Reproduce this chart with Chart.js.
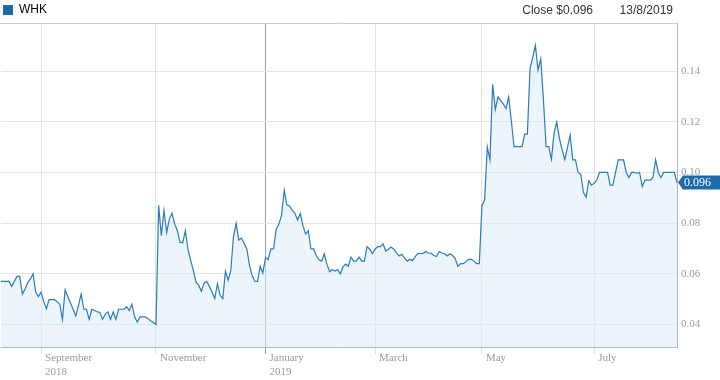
<!DOCTYPE html>
<html><head><meta charset="utf-8">
<script src="https://cdn.jsdelivr.net/npm/chart.js@4/dist/chart.umd.min.js"></script>
<style>html,body{margin:0;padding:0;background:#fff}</style>
</head><body>
<canvas id="c" width="720" height="380"></canvas>
<script>
const ticker = 'WHK';
const closeDate = '13/8/2019';

// Daily closes by month (trading days only)
const aug2018 = [0.057,0.057,0.057,0.057,0.055,0.057,0.059,0.059,0.052,0.054,0.0565,0.058,0.060,0.0527,0.051];
const sep2018 = [0.0527,0.049,0.0462,0.0498,0.0498,0.0498,0.049,0.048,0.042,0.0537,0.051,0.0485,0.046,0.0433,0.0475,0.052,0.046,0.046,0.042,0.046];
const oct2018 = [0.0455,0.045,0.0448,0.042,0.044,0.045,0.042,0.045,0.042,0.046,0.046,0.046,0.047,0.0455,0.048,0.043,0.041,0.043,0.043,0.043,0.0423,0.0415,0.0408];
const nov2018 = [0.040,0.087,0.075,0.085,0.0763,0.0816,0.0839,0.0796,0.077,0.0724,0.0722,0.077,0.0695,0.0652,0.0613,0.0567,0.0554,0.0531,0.0563,0.057,0.055,0.0528];
const dec2018 = [0.0502,0.0561,0.0515,0.0502,0.061,0.0574,0.0613,0.0746,0.0799,0.0733,0.0741,0.072,0.0698,0.0633,0.0593,0.0571,0.057,0.0629,0.0603];
const jan2019 = [0.0665,0.0656,0.0698,0.0698,0.0776,0.0796,0.0831,0.0929,0.0871,0.0868,0.0851,0.0839,0.0812,0.0839,0.079,0.0757,0.077,0.0698,0.0698,0.0672,0.0655];
const feb2019 = [0.065,0.0679,0.0637,0.0608,0.0617,0.0611,0.0617,0.060,0.0627,0.0638,0.063,0.0666,0.065,0.065,0.0666,0.065,0.065,0.0707,0.0697,0.068];
const mar2019 = [0.0697,0.0707,0.0707,0.0718,0.069,0.0697,0.0706,0.0697,0.0683,0.067,0.0677,0.0663,0.065,0.0657,0.0652,0.0668,0.068,0.068,0.068,0.0688,0.0681];
const apr2019 = [0.0681,0.0672,0.0668,0.0688,0.0682,0.0679,0.067,0.0679,0.0672,0.066,0.0629,0.064,0.064,0.0648,0.0657,0.0657,0.065,0.064,0.064];
const may2019 = [0.0869,0.0891,0.1101,0.105,0.1348,0.1249,0.1298,0.1285,0.127,0.1252,0.1298,0.1203,0.1102,0.1102,0.1102,0.1102,0.1151,0.1151,0.1411,0.1453,0.1501,0.1404,0.1449];
const jun2019 = [0.1289,0.1102,0.1102,0.1052,0.1157,0.1199,0.1134,0.109,0.105,0.1098,0.1148,0.105,0.105,0.100,0.0993,0.0921,0.0902,0.0967,0.095];
const jul2019 = [0.0957,0.0971,0.100,0.100,0.100,0.100,0.095,0.095,0.100,0.105,0.105,0.105,0.100,0.098,0.100,0.100,0.0997,0.100,0.0945,0.097,0.097,0.097,0.098];
const aug2019 = [0.105,0.100,0.098,0.100,0.100,0.100,0.100,0.100,0.096];

const monthKeys = ['2018-08','2018-09','2018-10','2018-11','2018-12','2019-01','2019-02','2019-03','2019-04','2019-05','2019-06','2019-07','2019-08'];
const monthlyCloses = [aug2018,sep2018,oct2018,nov2018,dec2018,jan2019,feb2019,mar2019,apr2019,may2019,jun2019,jul2019,aug2019];
const monthTickLabels = [null,['September','2018'],null,['November'],null,['January','2019'],null,['March'],null,['May'],null,['July'],null];
const yearStartMonths = ['2019-01'];
const yTickValues = [0.04,0.06,0.08,0.10,0.12,0.14];
const yRange = [0.0311, 0.159];

// build category table
const labels = [], closes = [], tickText = {}, tickIsYear = {};
monthKeys.forEach((k, m) => {
  monthlyCloses[m].forEach((v, j) => {
    const idx = labels.length;
    labels.push(k + '-' + (j + 1));
    closes.push(v);
    if (j === 0 && monthTickLabels[m]) {
      tickText[idx] = monthTickLabels[m];
      tickIsYear[idx] = yearStartMonths.includes(k);
    }
  });
});
const lastClose = closes[closes.length - 1];

const lineColor = '#2b7bba';
const badgeColor = '#1c6aa6';

const extras = {
  id: 'extras',
  afterLayout(chart) {
    // nudge legend slightly down/right without changing the plot area
    const lg = chart.legend;
    if (lg) { lg.top += 3; lg.bottom += 3; lg.left += 1; lg.right += 1; }
  },
  beforeDatasetsDraw(chart) {
    const {ctx, chartArea} = chart;
    ctx.save();
    ctx.strokeStyle = '#cfcfcf';
    ctx.lineWidth = 1;
    ctx.beginPath();
    ctx.moveTo(0, Math.round(chartArea.top) + 0.5);
    ctx.lineTo(chartArea.right, Math.round(chartArea.top) + 0.5);
    ctx.stroke();
    ctx.restore();
  },
  afterDraw(chart) {
    const {ctx, chartArea, scales} = chart;
    ctx.save();
    // header texts
    ctx.fillStyle = '#333';
    ctx.font = '12px "Liberation Sans", Arial, sans-serif';
    ctx.textBaseline = 'middle';
    ctx.textAlign = 'right';
    ctx.fillText('Close $' + lastClose.toFixed(3), 593, 11);
    ctx.fillText(closeDate, 673, 11);
    // last price badge
    const y = scales.y.getPixelForValue(lastClose);
    const x0 = chartArea.right;
    const h = 14;
    ctx.fillStyle = badgeColor;
    ctx.beginPath();
    ctx.moveTo(x0 + 1, y);
    ctx.lineTo(x0 + 6, y - h / 2);
    ctx.lineTo(720, y - h / 2);
    ctx.lineTo(720, y + h / 2);
    ctx.lineTo(x0 + 6, y + h / 2);
    ctx.closePath();
    ctx.fill();
    ctx.fillStyle = '#fff';
    ctx.textAlign = 'left';
    ctx.font = '12px "Liberation Serif", "Times New Roman", serif';
    ctx.fillText(lastClose.toFixed(3), x0 + 7, y + 0.5);
    ctx.restore();
  }
};

new Chart(document.getElementById('c'), {
  type: 'line',
  data: {
    labels: labels,
    datasets: [{
      label: ticker,
      data: closes,
      borderColor: lineColor,
      backgroundColor: 'rgba(222,236,250,0.55)',
      borderWidth: 1.2,
      pointRadius: 0,
      tension: 0,
      fill: 'start'
    }]
  },
  options: {
    responsive: false,
    animation: false,
    devicePixelRatio: 1,
    layout: {padding: {left: 1, right: 0, top: 0, bottom: 0}},
    plugins: {
      tooltip: {enabled: false},
      legend: {
        display: true,
        position: 'top',
        align: 'start',
        labels: {
          boxWidth: 10,
          boxHeight: 10,
          padding: 1,
          color: '#333',
          font: {family: '"Liberation Sans", Arial, sans-serif', size: 12},
          generateLabels: (chart) => [{
            text: ticker, fillStyle: badgeColor, strokeStyle: badgeColor, lineWidth: 0, datasetIndex: 0, hidden: false
          }]
        }
      }
    },
    scales: {
      x: {
        type: 'category',
        offset: false,
        afterBuildTicks: (scale) => {
          scale.ticks = scale.ticks.filter(t => tickText[t.value] !== undefined);
        },
        afterFit: (scale) => { scale.height = 33; },
        ticks: {
          autoSkip: false,
          maxRotation: 0,
          align: 'start',
          labelOffset: 4,
          padding: -3,
          color: '#9a9a9a',
          font: {family: '"Liberation Serif", "Times New Roman", serif', size: 11, lineHeight: 1.3},
          callback: (value) => tickText[value]
        },
        grid: {
          drawOnChartArea: true,
          tickLength: 7,
          color: (c) => (c.tick && tickIsYear[c.tick.value]) ? '#9c9c9c' : '#e2e2e2',
          lineWidth: 1
        },
        border: {display: true, color: '#b8b8b8'}
      },
      y: {
        position: 'right',
        min: yRange[0],
        max: yRange[1],
        afterBuildTicks: (scale) => { scale.ticks = yTickValues.map(v => ({value: v})); },
        afterFit: (scale) => { scale.width = 43; },
        ticks: {
          padding: 4,
          color: '#9a9a9a',
          font: {family: '"Liberation Serif", "Times New Roman", serif', size: 11},
          callback: (v) => Number(v).toFixed(2)
        },
        grid: {color: '#e4e4e4', drawTicks: false},
        border: {display: true, color: '#b8b8b8'}
      }
    }
  },
  plugins: [extras]
});
</script>
</body></html>
